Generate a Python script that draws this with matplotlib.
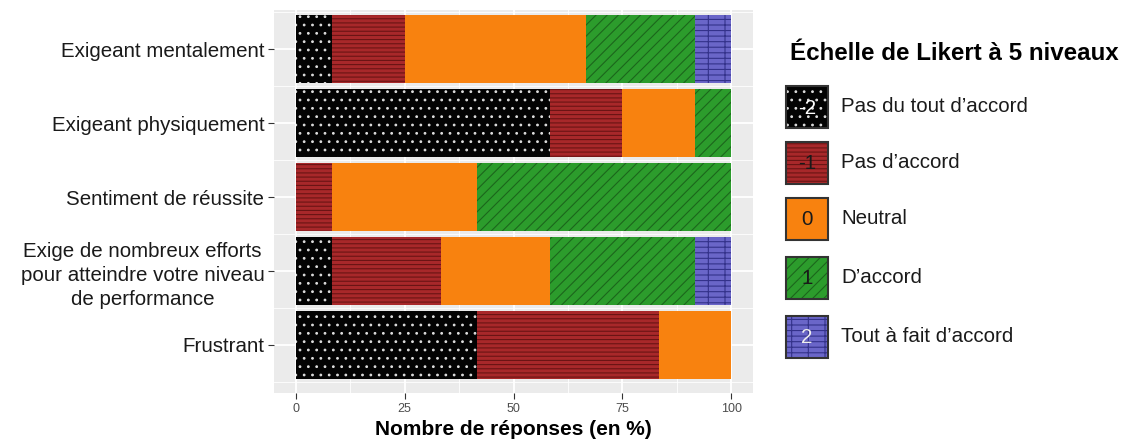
import numpy as np
import matplotlib
matplotlib.use("Agg")
from matplotlib import pyplot as plt
from matplotlib.patches import Rectangle

# data (percent of answers, 12 respondents)
items = ['Exigeant mentalement',
         'Exigeant physiquement',
         'Sentiment de réussite',
         'Exige de nombreux efforts\npour atteindre votre niveau\nde performance',
         'Frustrant']
pas_du_tout = [8.33, 58.33, 0, 8.33, 41.67]
pas_accord = [16.67, 16.67, 8.33, 25, 41.67]
neutre = [41.67, 16.67, 33.33, 25, 16.67]
accord = [25, 8.33, 58.33, 33.33, 0]
tout_a_fait = [8.33, 0, 0, 8.33, 0]

levels = ['-2', '-1', '0', '1', '2']
level_labels = ['Pas du tout d\u2019accord', 'Pas d\u2019accord', 'Neutral',
                'D\u2019accord', 'Tout à fait d\u2019accord']
x_ticks = [0, 25, 50, 75, 100]

# style of each level: face, hatch colour, hatch, number colour
styles = [('#030303', '#dddddd', '..', 'white'),
          ('#A8282A', '#6A1414', '----', '#1a1a1a'),
          ('#F8820F', '#F8820F', '', '#1a1a1a'),
          ('#2C9C2C', '#1C661C', '///', '#1a1a1a'),
          ('#6A66C8', '#34328A', '---|', '#eeeeee')]

plt.rcParams['font.family'] = ['Liberation Sans', 'DejaVu Sans']
plt.rcParams['hatch.linewidth'] = 0.8

fig = plt.figure(figsize=(11.25, 4.41), dpi=100)
ax = fig.add_axes([274 / 1125, 1 - 393 / 441, (753 - 274) / 1125, (393 - 10) / 441])
ax.set_facecolor('#EBEBEB')

series = [pas_du_tout, pas_accord, neutre, accord, tout_a_fait]
ypos = np.arange(1, len(items) + 1)
left = np.zeros(len(items))
for vals, st in zip(series, styles):
    vals = np.array(vals, dtype=float)
    ax.barh(ypos, vals, left=left, height=0.92, color=st[0], edgecolor=st[1],
            hatch=st[2], linewidth=0, zorder=3)
    left = left + vals

ax.set_xlim(-5, 105)
ax.set_ylim(5.65, 0.47)
ax.set_xticks(x_ticks)
ax.set_xticks([12.5, 37.5, 62.5, 87.5], minor=True)
ax.set_yticks(ypos)
ax.set_yticks(np.arange(0.5, 6, 1), minor=True)
ax.set_yticklabels(items, fontsize=14.8, color='#1a1a1a', multialignment='center',
                   linespacing=1.35)
ax.set_xticklabels([str(t) for t in x_ticks], fontsize=9, color='#4D4D4D')
ax.grid(which='major', color='white', linewidth=1.3, zorder=0)
ax.grid(which='minor', color='white', linewidth=0.6, zorder=0)
ax.set_axisbelow(True)
ax.tick_params(which='major', length=4, width=0.8, color='#333333', pad=3)
ax.tick_params(which='minor', length=0)
for s in ax.spines.values():
    s.set_visible(False)
ax.set_xlabel('Nombre de réponses (en %)', fontsize=15, fontweight='bold', labelpad=4)

# legend drawn by hand in pixel coordinates
lg = fig.add_axes([0, 0, 1, 1], facecolor='none')
lg.set_xlim(0, 1125)
lg.set_ylim(441, 0)
lg.axis('off')
lg.text(790, 53, 'Échelle de Likert à 5 niveaux', fontsize=17.4, fontweight='bold',
        va='center', ha='left', color='black')
key_y = [107, 162.5, 218.5, 277.5, 336.5]
for i in range(5):
    st = styles[i]
    lg.add_patch(Rectangle((786, key_y[i] - 21), 42, 42, facecolor=st[0],
                           edgecolor=st[1], hatch=st[2], linewidth=0))
    lg.add_patch(Rectangle((786, key_y[i] - 21), 42, 42, facecolor='none',
                           edgecolor='#333333', linewidth=1.5))
    lg.text(807, key_y[i] + 1, levels[i], fontsize=14.8, color=st[3],
            ha='center', va='center')
    lg.text(841, key_y[i], level_labels[i], fontsize=14.8, color='#1a1a1a',
            ha='left', va='center')

plt.savefig('out.png', dpi=100)
